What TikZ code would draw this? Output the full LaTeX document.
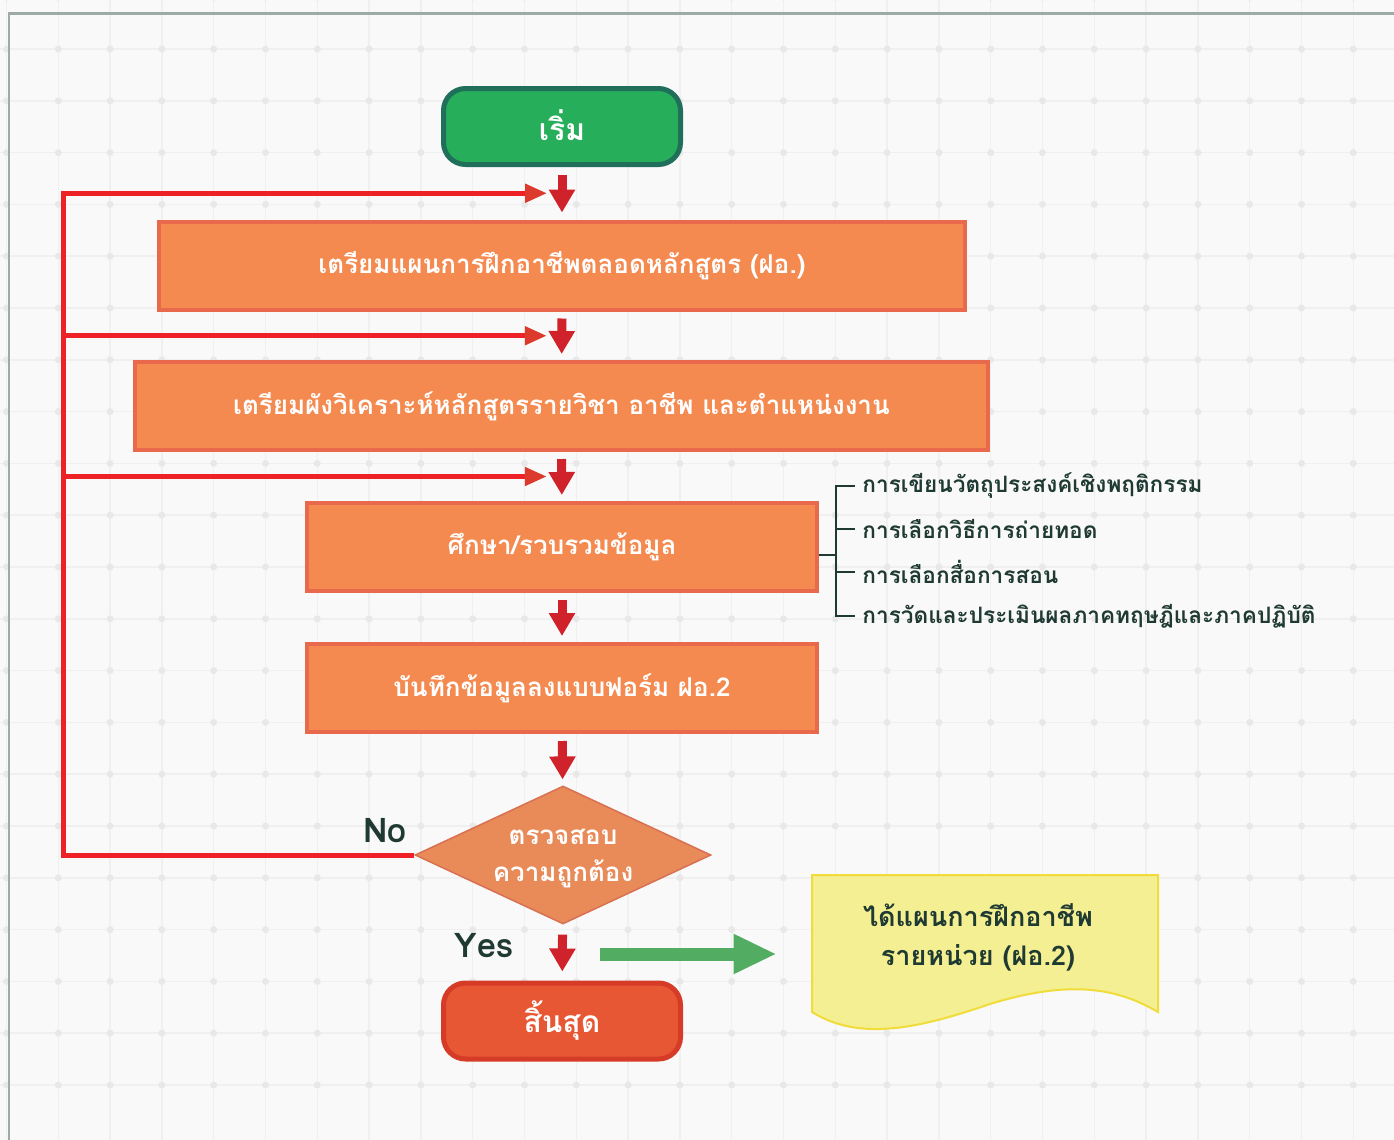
\documentclass[tikz,border=0pt]{standalone}
\usepackage{fontspec}
\setmainfont[Script=Thai]{Loma}
\usetikzlibrary{positioning,arrows.meta,shapes.geometric,calc}
\definecolor{bggray}{HTML}{F9F9F9}
\definecolor{gridline}{HTML}{F0F0F0}
\definecolor{griddot}{HTML}{E8E8E8}
\definecolor{framegray}{HTML}{9EAAA6}
\definecolor{startfill}{HTML}{27AE5A}
\definecolor{startline}{HTML}{1F6F5A}
\definecolor{boxfill}{HTML}{F48A4F}
\definecolor{boxline}{HTML}{E8694B}
\definecolor{checkfill}{HTML}{E88B58}
\definecolor{checkline}{HTML}{D77152}
\definecolor{endfill}{HTML}{E75734}
\definecolor{endline}{HTML}{D63B27}
\definecolor{flowred}{HTML}{D0222A}
\definecolor{backred}{HTML}{EE2126}
\definecolor{headred}{HTML}{DD3A2E}
\definecolor{darktxt}{HTML}{1F3A32}
\definecolor{outgreen}{HTML}{52AD62}
\definecolor{docfill}{HTML}{F4EF92}
\definecolor{docline}{HTML}{F0DC3A}

\begin{document}
\begin{tikzpicture}[x=0.5pt,y=-0.5pt,
  stepbox/.style={draw=boxline,fill=boxfill,line width=2pt,minimum height=44pt,
    text=white,font=\bfseries\fontsize{13}{15}\selectfont},
  term/.style={rounded corners=11pt,line width=2.5pt,minimum width=118.5pt,
    minimum height=38pt,text=white,font=\bfseries\fontsize{15}{18}\selectfont},
  flow/.style={draw=flowred,line width=4.5pt,-{Triangle[length=11.5pt,width=12.5pt]},
    shorten <=3.5pt,shorten >=3pt},
  back/.style={draw=backred,line width=2.5pt,-{Triangle[length=11pt,width=9pt,color=headred]}},
  note/.style={anchor=west,inner sep=0pt,text=darktxt,font=\bfseries\fontsize{11.3}{14}\selectfont},
  lbl/.style={text=darktxt,font=\bfseries\fontsize{17}{20}\selectfont}]

% Background and grid
\fill[bggray] (0,0) rectangle (1394,1140);
\useasboundingbox (0,0) rectangle (1394,1140);
\foreach \i in {0,...,26} \draw[gridline,line width=0.75pt] (6.5+51.8*\i,0) -- (6.5+51.8*\i,1140);
\foreach \j in {0,...,21} \draw[gridline,line width=0.75pt] (0,49+51.8*\j-51.8) -- (1394,49+51.8*\j-51.8);
\foreach \i in {0,...,26}
  \foreach \j in {0,...,21}
    \fill[griddot] (6.5+51.8*\i,49+51.8*\j-51.8) circle (1.75pt);
\draw[framegray,line width=1.25pt] (9,1140) -- (9,13.7) -- (1394,13.7);

% Start
\node[term,draw=startline,fill=startfill] (start) at (562,126.5) {\raisebox{1.5pt}{เริ่ม}};

% Steps
\node[stepbox,minimum width=403pt] (prep1) at (562,265.5) {เตรียมแผนการฝึกอาชีพตลอดหลักสูตร (ฝอ.)};
\node[stepbox,minimum width=426.5pt] (prep2) at (561.5,406) {เตรียมผังวิเคราะห์หลักสูตรรายวิชา อาชีพ และตำแหน่งงาน};
\node[stepbox,minimum width=255pt] (study) at (562,547) {ศึกษา/รวบรวมข้อมูล};
\node[stepbox,minimum width=255pt] (record) at (562,688) {บันทึกข้อมูลลงแบบฟอร์ม ฝอ.2};

% Check
\node[diamond,draw=checkline,fill=checkfill,line width=0.75pt,minimum width=148pt,
  minimum height=69pt,inner sep=0pt] (check) at (563,855) {};
\node[align=center,text=white,font=\bfseries\fontsize{13}{18.5}\selectfont] (checktxt)
  at ([yshift=-2pt]check.center) {ตรวจสอบ\\ความถูกต้อง};

% End
\node[term,draw=endline,fill=endfill] (stop) at (562,1021) {\raisebox{1.5pt}{สิ้นสุด}};

% Output document
\draw[docline,fill=docfill,line width=1pt] (812,875) -- (1158,875) -- (1158,1012)
  .. controls (1120,990) and (1075,978) .. (990,1004)
  .. controls (920,1028) and (860,1042) .. (812,1012) -- cycle;
\node[align=center,minimum width=166pt,text=darktxt,font=\bfseries\fontsize{13.5}{19.5}\selectfont] (doc) at (978,937)
  {ได้แผนการฝึกอาชีพ\\รายหน่วย (ฝอ.2)};

% Arrows
\draw[flow,shorten <=4pt,shorten >=3.5pt] (start) -- (prep1);
\draw[flow] (prep1) -- (prep2);
\draw[flow] (prep2) -- (study);
\draw[flow] (study) -- (record);
\draw[flow] (record) -- (check);
\draw[flow,shorten <=5pt,shorten >=4.5pt] (check) -- (stop);

% Loop back
\coordinate (in1) at ($(start.south)!.5!(prep1.north)+(-15,0)$);
\coordinate (in2) at ($(prep1.south)!.5!(prep2.north)+(-15,0)$);
\coordinate (in3) at ($(prep2.south)!.5!(study.north)+(-15,0)$);
\coordinate (loop) at (63,855);
\draw[back] (check.west) -- (loop) |- (in1);
\draw[back] (loop |- in2) -- (in2);
\draw[back] (loop |- in3) -- (in3);
\node[lbl] (no) at (385,831) {No};
\node[lbl] (yes) at (484,946) {Yes};

% Result
\coordinate (res) at (600,954);
\draw[outgreen,line width=6.5pt,-{Triangle[length=21.5pt,width=18.5pt]},shorten >=17.5pt] (res) -- (res -| doc.west);

% Details
\node[note] (d1) at (862,486) {การเขียนวัตถุประสงค์เชิงพฤติกรรม};
\node[note] (d2) at (862,529) {การเลือกวิธีการถ่ายทอด};
\node[note] (d3) at (862,572) {การเลือกสื่อการสอน};
\node[note] (d4) at (862,616) {การวัดและประเมินผลภาคทฤษฎีและภาคปฏิบัติ};
\coordinate (brk) at (836,555);
\draw[darktxt,line width=1.25pt] ([yshift=-4pt]study.east) -- (brk);
\draw[darktxt,line width=1.25pt,shorten >=3.5pt] (brk) |- (d1.west);
\draw[darktxt,line width=1.25pt,shorten >=3.5pt] (brk) |- (d2.west);
\draw[darktxt,line width=1.25pt,shorten >=3.5pt] (brk) |- (d3.west);
\draw[darktxt,line width=1.25pt,shorten >=3.5pt] (brk) |- (d4.west);
\end{tikzpicture}
\end{document}
